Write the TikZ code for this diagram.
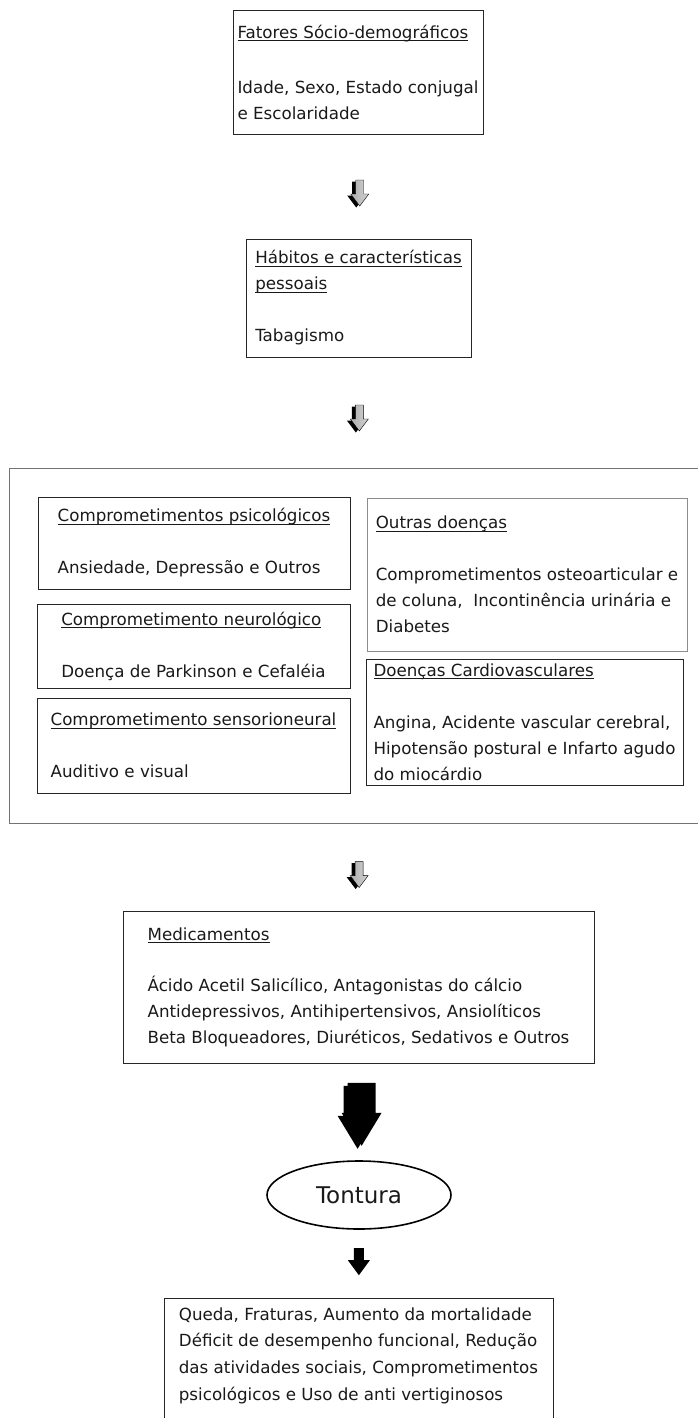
\documentclass[tikz,border=0pt]{standalone}
\usepackage{fontspec}
\setmainfont{DejaVu Sans}
\usetikzlibrary{shapes.geometric,calc}
\def\undl#1{\leavevmode\setbox0\hbox{#1}\rlap{\rule[-2.6pt]{\wd0}{0.6pt}}\box0}
\def\tipsmall{++(-4,0) -- ++(8,0) -- ++(0,14) -- ++(5,0) -- ++(-9,12) -- ++(-9,-12) -- ++(5,0) -- cycle}
\def\tipbig{++(-14,0) -- ++(28,0) -- ++(0,30) -- ++(6,0) -- ++(-20,33) -- ++(-20,-33) -- ++(6,0) -- cycle}
\def\tipblack{++(-5,0) -- ++(10,0) -- ++(0,12) -- ++(6,0) -- ++(-11,15) -- ++(-11,-15) -- ++(6,0) -- cycle}
\def\hollow#1{\fill[black] (#1) ++(-2,1.5) \tipsmall;
  \shadedraw[left color=gray!65,middle color=white,right color=gray!35,draw=black,line width=0.4pt] (#1) ++(1.5,0) \tipsmall;}
\tikzset{
  box/.style={draw=black!85,line width=0.9pt,align=left,text=black!90,inner sep=0pt,
    font=\fontsize{16.7}{26}\selectfont},
  frame/.style={draw=black!55,line width=0.9pt,inner sep=0pt},
}

\begin{document}
\begin{tikzpicture}[x=1pt,y=-1pt]
\useasboundingbox (0,0) rectangle (697,1418);

\node[box,minimum width=250,minimum height=124] (fatores) at (358,72)
  {\undl{Fatores Sócio-demográficos}\\[29pt]Idade, Sexo, Estado conjugal\\e Escolaridade};
\node[box,minimum width=225,minimum height=118] (habitos) at (358.5,298)
  {\undl{Hábitos e características}\\\undl{pessoais}\\[26pt]Tabagismo};

% doencas
\node[frame,minimum width=696,minimum height=355] (doencas) at (357,645.5) {};
\node[box,minimum width=312,minimum height=92] (psico) at (194,543)
  {\undl{Comprometimentos psicológicos}\\[26pt]Ansiedade, Depressão e Outros};
\node[box,minimum width=313,minimum height=84] (neuro) at (193.5,646)
  {\undl{Comprometimento neurológico}\\[26pt]Doença de Parkinson e Cefaléia};
\node[box,minimum width=313,minimum height=95] (sensorio) at (193.5,745.5)
  {\undl{Comprometimento sensorioneural}\\[26pt]Auditivo e visual};
\node[box,draw=black!45,minimum width=320,minimum height=153] (outras) at (527,574.5)
  {\undl{Outras doenças}\\[26pt]Comprometimentos osteoarticular e\\de coluna,~ Incontinência urinária e\\Diabetes};
\node[box,minimum width=317,minimum height=126] (cardio) at (524.5,722)
  {\undl{Doenças Cardiovasculares}\\[26pt]Angina, Acidente vascular cerebral,\\Hipotensão postural e Infarto agudo\\do miocárdio};

\node[box,minimum width=471,minimum height=152] (medic) at (358.5,987)
  {\undl{Medicamentos}\\[25pt]Ácido Acetil Salicílico, Antagonistas do cálcio\\Antidepressivos, Antihipertensivos, Ansiolíticos\\Beta Bloqueadores, Diuréticos, Sedativos e Outros};
\node[ellipse,draw=black,line width=1.6pt,minimum width=184,minimum height=68,inner sep=0pt,
  font=\fontsize{23}{27}\selectfont,text=black!90] (tontura) at (359,1195) {Tontura};
\node[box,anchor=north,minimum width=389,inner ysep=9pt,font=\fontsize{16.7}{26.7}\selectfont] (efeitos) at (358.5,1298)
  {Queda, Fraturas, Aumento da mortalidade\\Déficit de desempenho funcional, Redução\\das atividades sociais, Comprometimentos\\psicológicos e Uso de anti vertiginosos\\[30pt]\mbox{}};

% setas
\coordinate (s1) at ($(fatores.south)!.438!(habitos.north)$);
\coordinate (s2) at ($(habitos.south)!.432!(doencas.north)$);
\coordinate (s3) at ($(doencas.south)!.438!(medic.north)$);
\coordinate (s4) at ($(medic.south)!.2!(tontura.north)$);
\coordinate (s5) at ($(tontura.south)!.27!(efeitos.north)$);
\hollow{s1}
\hollow{s2}
\hollow{s3}
\fill[black] (s4) ++(-1,3) \tipbig;
\fill[black] (s4) ++(3,0) \tipbig;
\fill[black] (s5) \tipblack;
\end{tikzpicture}
\end{document}
